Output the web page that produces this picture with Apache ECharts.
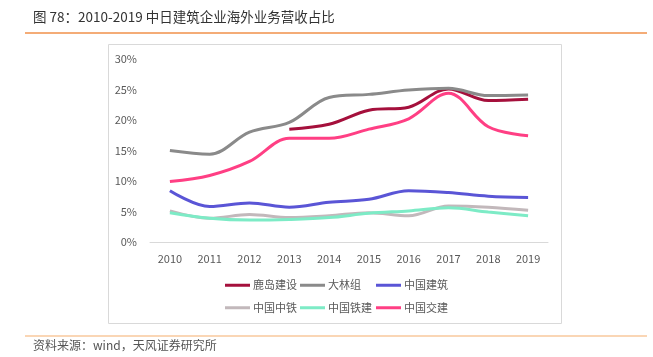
<!DOCTYPE html>
<html><head><meta charset="utf-8">
<script src="https://cdn.jsdelivr.net/npm/echarts@6/dist/echarts.min.js"></script>
<style>html,body{margin:0;padding:0;background:#fff}#c{width:653px;height:357px}</style>
</head><body><div id="c"></div>
<script>
const years = ['2010','2011','2012','2013','2014','2015','2016','2017','2018','2019'];
const yTicks = [0,5,10,15,20,25,30];
const kajima   = [null,null,null,18.5,19.3,21.6,22.1,25.1,23.2,23.4];
const obayashi = [15.0,14.4,18.0,19.6,23.7,24.2,24.9,25.2,24.0,24.1];
const cscec    = [8.4,5.8,6.4,5.7,6.5,7.0,8.4,8.1,7.5,7.3];
const crec     = [5.1,3.9,4.5,4.0,4.3,4.8,4.3,5.9,5.7,5.2];
const crcc     = [4.8,3.9,3.6,3.7,4.0,4.7,5.1,5.6,4.9,4.3];
const cccc     = [9.9,10.9,13.2,17.0,17.0,18.5,20.2,24.4,18.9,17.4];
const names  = ['鹿岛建设','大林组','中国建筑','中国中铁','中国铁建','中国交建'];
const colors = ['#A5103C','#8A8A8A','#5A55D6','#C2B8BB','#7DEBC6','#FF3F84'];
const values = [kajima, obayashi, cscec, crec, crcc, cccc];

const font = '"Microsoft YaHei","Noto Sans CJK SC","Liberation Sans",sans-serif';
const legendBase = {orient:'vertical',top:274,itemWidth:25,itemHeight:3,itemGap:10,icon:'rect',
  textStyle:{color:'#595959',fontSize:11,lineHeight:12.5,padding:[0,0,0,-2]}};
const chart = echarts.init(document.getElementById('c'));
chart.setOption({
  animation:false,
  textStyle:{fontFamily:font},
  title:{text:'图 78：2010-2019 中日建筑企业海外业务营收占比',left:28,top:5,
    textStyle:{fontSize:13.5,fontWeight:'normal',color:'#333',fontFamily:font}},
  graphic:[
    {type:'line',shape:{x1:25,y1:33,x2:647,y2:33},style:{stroke:'#F0914A',lineWidth:1.5},silent:true},
    {type:'line',shape:{x1:25,y1:336,x2:647,y2:336},style:{stroke:'#F9C99C',lineWidth:1.5},silent:true},
    {type:'rect',shape:{x:108.5,y:44.5,width:453,height:279},style:{fill:'none',stroke:'#D9D9D9',lineWidth:1},silent:true},
    {type:'text',left:33,top:339,style:{text:'资料来源：wind，天风证券研究所',fontSize:12,fill:'#555',fontFamily:font}}
  ],
  grid:{left:150,right:105,top:59,bottom:115},
  xAxis:{type:'category',data:years,boundaryGap:true,
    axisLine:{lineStyle:{color:'#D9D9D9'}},axisTick:{show:false},
    axisLabel:{color:'#595959',fontSize:11,margin:11}},
  yAxis:{type:'value',min:0,max:30,interval:5,
    axisLine:{show:false},axisTick:{show:false},splitLine:{show:false},
    axisLabel:{color:'#595959',fontSize:11,margin:13,formatter:v=>yTicks.includes(v)?v+'%':''}},
  legend:[
    Object.assign({},legendBase,{left:220,data:[names[0],names[3]]}),
    Object.assign({},legendBase,{left:295,data:[names[1],names[4]]}),
    Object.assign({},legendBase,{left:371,data:[names[2],names[5]]})
  ],
  series: names.map((n,i)=>({
    name:n,type:'line',data:values[i],smooth:0.35,showSymbol:false,symbol:'none',
    connectNulls:false,lineStyle:{width:3,color:colors[i]},itemStyle:{color:colors[i]}
  }))
});
</script></body></html>
